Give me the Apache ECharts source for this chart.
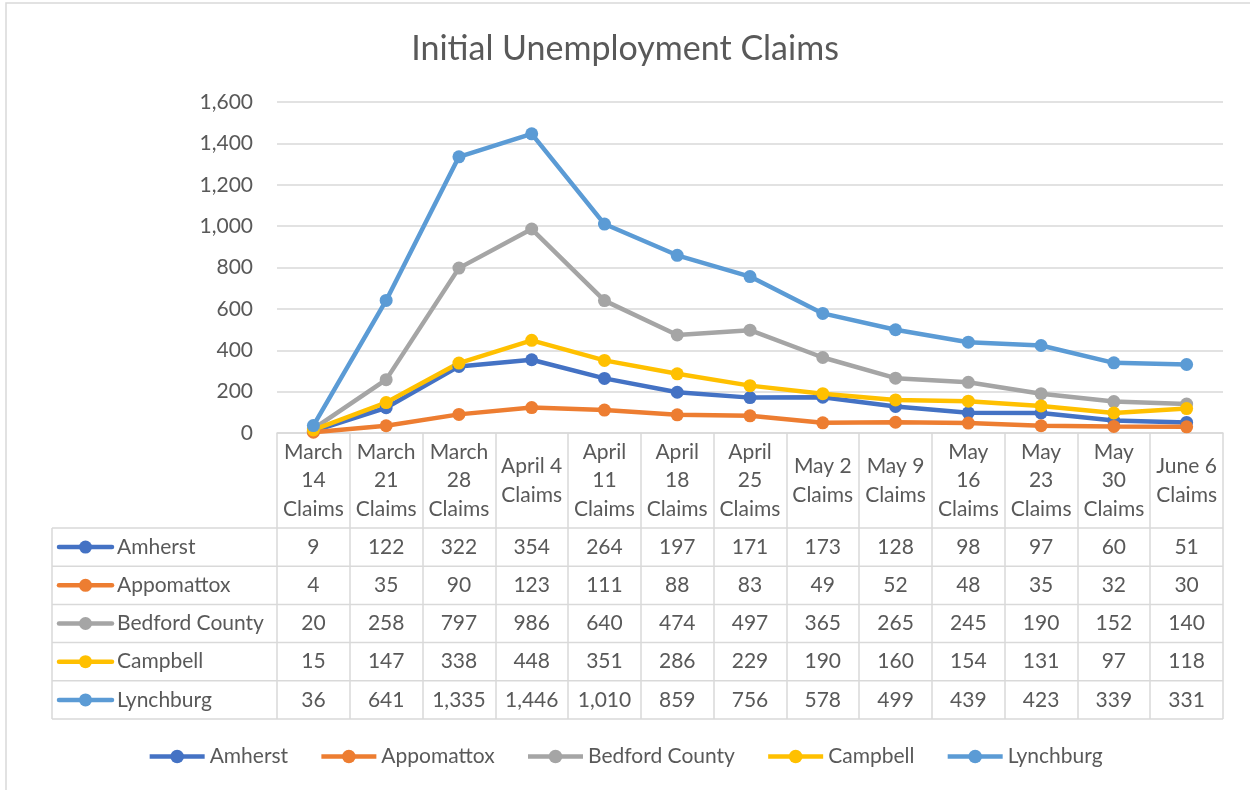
<!DOCTYPE html>
<html>
<head>
<meta charset="utf-8">
<script src="https://cdn.jsdelivr.net/npm/echarts@6/dist/echarts.min.js"></script>
<style>html,body{margin:0;padding:0;background:#fff}#c{width:1250px;height:790px}</style>
</head>
<body>
<div id="c"></div>
<script>
const categories = ['March 14 Claims','March 21 Claims','March 28 Claims','April 4 Claims','April 11 Claims','April 18 Claims','April 25 Claims','May 2 Claims','May 9 Claims','May 16 Claims','May 23 Claims','May 30 Claims','June 6 Claims'];
const headerLabels = ['March\n14\nClaims','March\n21\nClaims','March\n28\nClaims','April 4\nClaims','April\n11\nClaims','April\n18\nClaims','April\n25\nClaims','May 2\nClaims','May 9\nClaims','May\n16\nClaims','May\n23\nClaims','May\n30\nClaims','June 6\nClaims'];
const seriesNames = ['Amherst','Appomattox','Bedford County','Campbell','Lynchburg'];
const amherst    = [9,122,322,354,264,197,171,173,128,98,97,60,51];
const appomattox = [4,35,90,123,111,88,83,49,52,48,35,32,30];
const bedford    = [20,258,797,986,640,474,497,365,265,245,190,152,140];
const campbell   = [15,147,338,448,351,286,229,190,160,154,131,97,118];
const lynchburg  = [36,641,1335,1446,1010,859,756,578,499,439,423,339,331];
const yTicks = [0,200,400,600,800,1000,1200,1400,1600];

const seriesData = [amherst, appomattox, bedford, campbell, lynchburg];
const colors = ['#4472C4','#ED7D31','#A5A5A5','#FFC000','#5B9BD5'];

const FONT = 'Lato';
const FS = 21;
const TXT = '#595959';
const GRIDC = '#d9d9d9';
const gridLeft = 277, gridRight = 27, gridTop = 102, axisY = 433;
const headerH = 95, rowH = 38.2, tableLeft = 52, tableRight = 1250 - gridRight;
const fmt = v => Number(v).toLocaleString('en-US');

const chart = echarts.init(document.getElementById('c'));

const xAxes = [{
  type: 'category', data: categories, gridIndex: 0, position: 'bottom',
  boundaryGap: true,
  axisLine: {show: true, lineStyle: {color: GRIDC, width: 1.5}},
  axisTick: {show: true, alignWithLabel: false, length: headerH + rowH * 5, lineStyle: {color: GRIDC, width: 1.5}},
  axisLabel: {interval: 0, margin: headerH / 2, verticalAlign: 'middle', lineHeight: 28.5,
    fontFamily: FONT, fontSize: FS, color: TXT, formatter: (v, i) => headerLabels[i]}
}];
seriesData.forEach((d, k) => {
  xAxes.push({
    type: 'category', data: categories, gridIndex: 0, position: 'bottom',
    offset: headerH + rowH * k,
    axisLine: {show: false}, axisTick: {show: false}, splitLine: {show: false},
    axisLabel: {interval: 0, margin: rowH / 2, verticalAlign: 'middle',
      fontFamily: FONT, fontSize: FS, color: TXT, formatter: (v, i) => fmt(d[i])}
  });
});

const graphics = [];
graphics.push({type: 'rect', shape: {x: 6, y: 3, width: 1300, height: 850}, style: {fill: null, stroke: GRIDC, lineWidth: 1.5}, silent: true});
for (let r = 0; r <= 5; r++) {
  const y = axisY + headerH + rowH * r;
  graphics.push({type: 'line', shape: {x1: tableLeft, y1: y, x2: tableRight, y2: y}, style: {stroke: GRIDC, lineWidth: 1.5}, silent: true});
}
graphics.push({type: 'line', shape: {x1: tableLeft, y1: axisY + headerH, x2: tableLeft, y2: axisY + headerH + rowH * 5}, style: {stroke: GRIDC, lineWidth: 1.5}, silent: true});
seriesNames.forEach((n, k) => {
  const cy = axisY + headerH + rowH * k + rowH / 2;
  graphics.push({type: 'line', shape: {x1: 59, y1: cy, x2: 112, y2: cy}, style: {stroke: colors[k], lineWidth: 4.5, lineCap: 'round'}, silent: true});
  graphics.push({type: 'circle', shape: {cx: 85.5, cy: cy, r: 6.5}, style: {fill: colors[k]}, silent: true});
  graphics.push({type: 'text', x: 117, y: cy, style: {text: n, fontFamily: FONT, fontSize: FS, fill: TXT, verticalAlign: 'middle', align: 'left'}, silent: true});
});

chart.setOption({
  animation: false,
  backgroundColor: '#fff',
  color: colors,
  title: {text: 'Initial Unemployment Claims', left: 'center', top: 27,
    textStyle: {fontFamily: FONT, fontSize: 34, fontWeight: 'normal', color: TXT}},
  legend: {data: seriesNames, bottom: 18, left: 'center', itemWidth: 55, itemHeight: 17, itemGap: 31,
    lineStyle: {width: 4.5},
    textStyle: {fontFamily: FONT, fontSize: FS, color: TXT}},
  grid: {left: gridLeft, right: gridRight, top: gridTop, bottom: 790 - axisY, containLabel: false},
  xAxis: xAxes,
  yAxis: {type: 'value', min: yTicks[0], max: yTicks[yTicks.length - 1], interval: 200,
    axisLine: {show: false}, axisTick: {show: false},
    splitLine: {lineStyle: {color: GRIDC, width: 1.5}},
    axisLabel: {margin: 24, fontFamily: FONT, fontSize: FS, color: TXT, formatter: v => fmt(v)}},
  graphic: graphics,
  series: seriesNames.map((n, k) => ({
    name: n, type: 'line', xAxisIndex: 0, data: seriesData[k],
    symbol: 'circle', symbolSize: 13,
    lineStyle: {width: 4.5, color: colors[k]}, itemStyle: {color: colors[k]}
  }))
});
</script>
</body>
</html>
